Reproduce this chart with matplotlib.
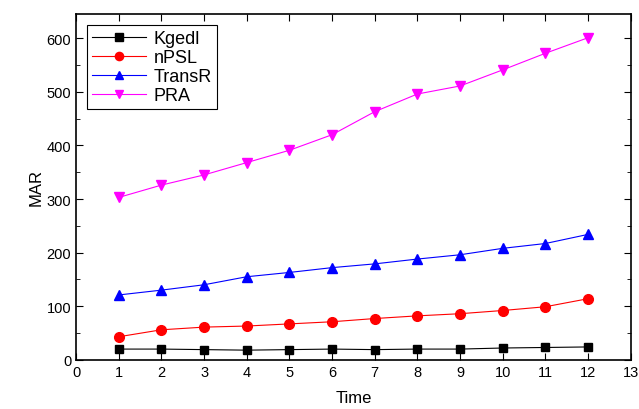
import numpy as np
import matplotlib.pyplot as plt
from matplotlib.ticker import MultipleLocator

plt.rcParams['font.family'] = ['Liberation Sans', 'DejaVu Sans']

# data
time = [1, 2, 3, 4, 5, 6, 7, 8, 9, 10, 11, 12]
kgedl = [20, 20, 19, 18, 19, 20, 19, 20, 20, 22, 23, 24]
npsl = [43, 56, 61, 63, 67, 71, 77, 82, 86, 92, 99, 114]
transr = [121, 130, 140, 155, 163, 172, 179, 188, 196, 208, 217, 234]
pra = [303, 326, 345, 368, 391, 420, 463, 496, 511, 541, 572, 601]

fig = plt.figure(figsize=(6.39, 4.10), dpi=100)
ax = fig.add_axes([0.119, 0.12, 0.868, 0.843])

ax.plot(time, kgedl, color='black', marker='s', markersize=6, linewidth=0.8, label='Kgedl')
ax.plot(time, npsl, color='red', marker='o', markersize=7, linewidth=0.8, label='nPSL')
ax.plot(time, transr, color='blue', marker='^', markersize=7.5, linewidth=0.8, label='TransR')
ax.plot(time, pra, color='magenta', marker='v', markersize=7.5, linewidth=0.8, label='PRA')

ax.set_xlim(0, 13)
ax.set_ylim(0, 645)
ax.xaxis.set_major_locator(MultipleLocator(1))
ax.yaxis.set_major_locator(MultipleLocator(100))
ax.yaxis.set_minor_locator(MultipleLocator(50))
ax.tick_params(which='both', direction='in', top=True, right=True, labelsize=10.5)
ax.tick_params(which='major', length=5)
ax.tick_params(which='minor', length=3)
for s in ax.spines.values():
    s.set_linewidth(1.2)

ax.set_xlabel('Time', fontsize=12, labelpad=8)
ax.set_ylabel('MAR', fontsize=12, labelpad=2)

leg = ax.legend(loc='upper left', fancybox=False, edgecolor='black', framealpha=1,
                fontsize=13, handlelength=3.0, labelspacing=0.1, borderaxespad=0.6,
                markerscale=0.85, borderpad=0.3, handletextpad=0.4)
leg.get_frame().set_linewidth(0.8)

fig.savefig('out.png', dpi=100)
